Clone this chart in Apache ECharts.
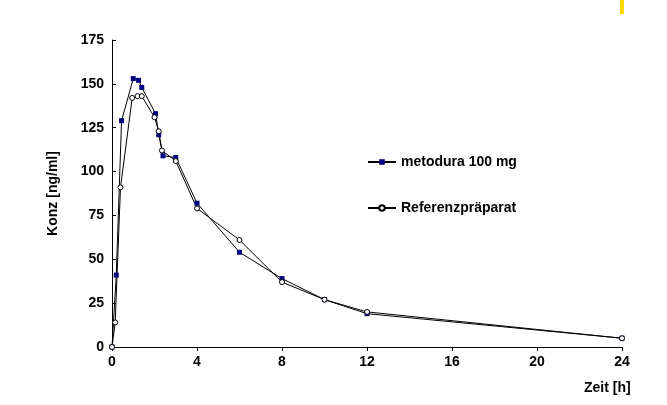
<!DOCTYPE html>
<html>
<head>
<meta charset="utf-8">
<script src="https://cdn.jsdelivr.net/npm/echarts@6/dist/echarts.min.js"></script>
<style>html,body{margin:0;padding:0;background:#fff}#main{width:667px;height:405px}</style>
</head>
<body>
<div id="main"></div>
<script>
/* Zeitpunkte [h] */
var timeA = [0, 0.2, 0.45, 1, 1.25, 1.4, 2.05, 2.2, 2.4, 3, 4, 6, 8, 10, 12, 24];
var timeB = [0, 0.15, 0.4, 0.95, 1.2, 1.4, 2, 2.2, 2.35, 3, 4, 6, 8, 10, 12, 24];
// metodura 100 mg
var concA = [0, 41, 129, 153, 152, 148, 133, 121, 109, 108, 82, 54, 39, 27, 19, 5];
// Referenzpräparat
var concB = [0, 14, 91, 142, 143, 143, 131, 123, 112, 106, 79, 61, 37, 27, 20, 5];

function pairs(x, y) {
  var d = [];
  for (var i in x) d[i] = [x[i], y[i]];
  return d;
}

var myChart = echarts.init(document.getElementById('main'));
var font = 'Liberation Sans';
var option = {
  animation: false,
  textStyle: { fontFamily: font },
  grid: { left: 112, right: 45, top: 40, bottom: 58 },
  legend: {
    orient: 'vertical', left: 362, top: 150, itemGap: 32,
    itemWidth: 28, itemHeight: 7,
    textStyle: { fontFamily: font, fontSize: 14, fontWeight: 'bold', color: '#000' },
    data: ['metodura 100 mg', 'Referenzpräparat']
  },
  xAxis: {
    type: 'value', min: 0, max: 24, interval: 4,
    axisLine: { lineStyle: { color: '#000' } },
    axisTick: { lineStyle: { color: '#000' }, length: 4 },
    axisLabel: { fontFamily: font, fontSize: 14, fontWeight: 'bold', color: '#000' },
    splitLine: { show: false }
  },
  yAxis: {
    type: 'value', min: 0, max: 175, interval: 25,
    name: 'Konz [ng/ml]', nameLocation: 'middle', nameGap: 52,
    nameTextStyle: { fontFamily: font, fontSize: 14, fontWeight: 'bold', color: '#000' },
    axisLine: { show: true, lineStyle: { color: '#000' } },
    axisTick: { show: true, inside: true, lineStyle: { color: '#000' }, length: 4 },
    axisLabel: { fontFamily: font, fontSize: 14, fontWeight: 'bold', color: '#000' },
    splitLine: { show: false }
  },
  series: [
    {
      name: 'metodura 100 mg', type: 'line', data: pairs(timeA, concA),
      symbol: 'rect', symbolSize: 5,
      lineStyle: { color: '#000', width: 1 },
      itemStyle: { color: '#000080', borderWidth: 0 }
    },
    {
      name: 'Referenzpräparat', type: 'line', data: pairs(timeB, concB),
      symbol: 'circle', symbolSize: 5,
      lineStyle: { color: '#000', width: 1 },
      itemStyle: { color: '#fff', borderColor: '#000', borderWidth: 1 }
    }
  ],
  graphic: [
    { type: 'rect', shape: { x: 620, y: 0, width: 4, height: 14 }, style: { fill: '#ffd700' } },
    { type: 'text', left: 584, top: 381, style: { text: 'Zeit [h]', fontFamily: font, fontSize: 14, fontWeight: 'bold', fill: '#000' } }
  ]
};
myChart.setOption(option);
</script>
</body>
</html>
